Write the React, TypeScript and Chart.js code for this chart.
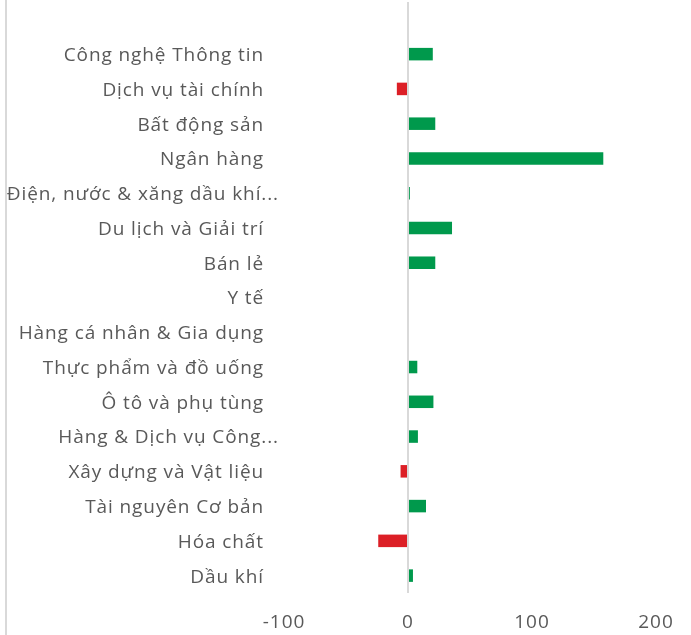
import React, { useEffect, useRef } from "react";
import { Chart, registerables } from "chart.js";

Chart.register(...registerables);

const categories: string[] = [
  "",
  "Công nghệ Thông tin",
  "Dịch vụ tài chính",
  "Bất động sản",
  "Ngân hàng",
  "Điện, nước & xăng dầu khí...",
  "Du lịch và Giải trí",
  "Bán lẻ",
  "Y tế",
  "Hàng cá nhân & Gia dụng",
  "Thực phẩm và đồ uống",
  "Ô tô và phụ tùng",
  "Hàng & Dịch vụ Công...",
  "Xây dựng và Vật liệu",
  "Tài nguyên Cơ bản",
  "Hóa chất",
  "Dầu khí",
];

const values: (number | null)[] = [
  null, 20, -9, 22, 157.5, 1.5, 35.5, 22, 0, 0, 7.5, 20.5, 8, -6, 14.5, -24, 4,
];

const xTicks: number[] = [-100, 0, 100, 200];

const GREEN = "#00994C";
const RED = "#DC1F26";
const TEXT = "#595959";
const LINE = "#D9D9D9";
const FONT = "'Open Sans'";

export default function App() {
  const ref = useRef<HTMLCanvasElement | null>(null);

  useEffect(() => {
    if (!ref.current) return;
    const decoPlugin = {
      id: "deco",
      beforeDraw(chart: any) {
        (chart.ctx as any).letterSpacing = "0.9px";
      },
      afterDraw(chart: any) {
        const ctx = chart.ctx;
        ctx.save();
        ctx.strokeStyle = LINE;
        ctx.lineWidth = 2;
        ctx.beginPath();
        ctx.moveTo(6, 0);
        ctx.lineTo(6, chart.height);
        ctx.stroke();

        // category labels (Excel-style: truncated labels overhang with their ellipsis)
        const yScale = chart.scales.y;
        const baseX = chart.chartArea.left - 20;
        ctx.font = `19px ${FONT}`;
        (ctx as any).letterSpacing = "0.9px";
        ctx.fillStyle = TEXT;
        ctx.textAlign = "right";
        ctx.textBaseline = "middle";
        categories.forEach((label, i) => {
          if (!label) return;
          const y = yScale.getPixelForTick(i) + 1.5;
          const x = label.endsWith("...") ? baseX + 15 : baseX;
          ctx.fillText(label, x, y);
        });
        ctx.restore();
      },
    };
    const chart = new Chart(ref.current, {
      type: "bar",
      data: {
        labels: categories,
        datasets: [
          {
            data: values as any,
            backgroundColor: values.map((v) => ((v ?? 0) < 0 ? RED : GREEN)),
            categoryPercentage: 1,
            barPercentage: 0.36,
            borderWidth: 0,
          },
        ],
      },
      options: {
        indexAxis: "y",
        animation: false,
        responsive: false,
        maintainAspectRatio: false,
        layout: { padding: { top: 2, right: 35, bottom: 0, left: 0 } },
        plugins: {
          legend: { display: false },
          tooltip: { enabled: false },
        },
        scales: {
          x: {
            type: "linear",
            min: -100,
            max: 200,
            afterBuildTicks(scale: any) {
              scale.ticks = xTicks.map((v) => ({ value: v }));
            },
            afterFit(scale: any) {
              scale.height = 42;
              scale.paddingTop = 0;
              scale.paddingBottom = 0;
            },
            border: { display: false },
            grid: {
              drawTicks: false,
              lineWidth: 2,
              color: (c: any) => (c.tick && c.tick.value === 0 ? LINE : "rgba(0,0,0,0)"),
            },
            ticks: {
              padding: 18,
              color: TEXT,
              font: { family: FONT, size: 19 },
            },
          },
          y: {
            afterFit(scale: any) {
              scale.width = 284;
              scale.paddingTop = 0;
              scale.paddingBottom = 0;
            },
            border: { display: false },
            grid: { display: false, drawTicks: false },
            ticks: {
              display: false,
              autoSkip: false,
            },
          },
        },
      },
      plugins: [decoPlugin],
    });
    return () => chart.destroy();
  }, []);

  return (
    <div style={{ position: "fixed", left: 0, top: 0, width: 691, height: 635, background: "#fff" }}>
      <canvas ref={ref} width={691} height={635} style={{ width: 691, height: 635 }} />
    </div>
  );
}
